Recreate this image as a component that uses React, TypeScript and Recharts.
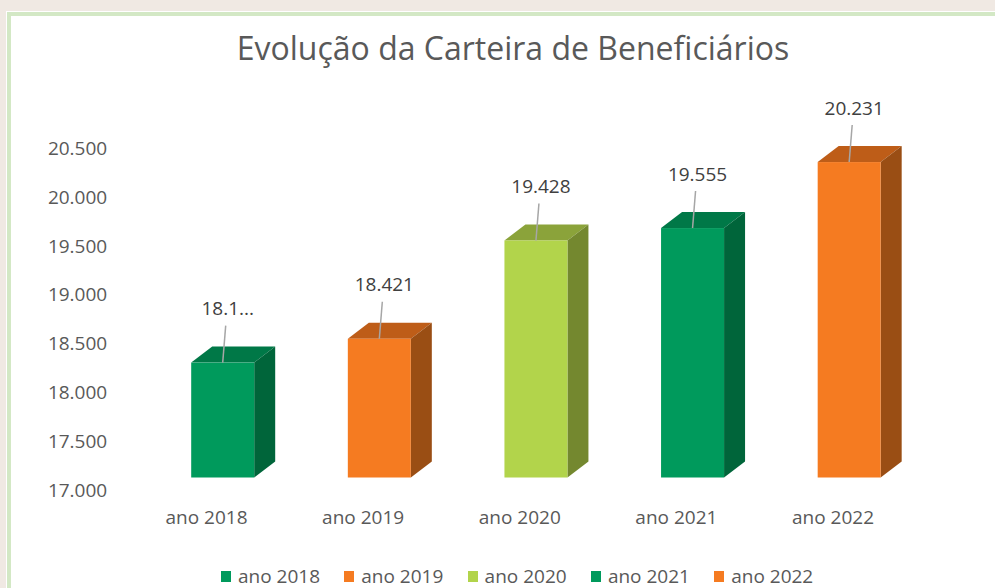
import { BarChart, Bar, XAxis, YAxis, Cell } from 'recharts';

const categories = ['ano 2018', 'ano 2019', 'ano 2020', 'ano 2021', 'ano 2022'];
const beneficiarios = [18177, 18421, 19428, 19555, 20231];
const dataLabels = ['18.1...', '18.421', '19.428', '19.555', '20.231'];
const yTicks = [17000, 17500, 18000, 18500, 19000, 19500, 20000, 20500];

// front / top / side shades per category
const palette = [
  { front: '#009a5c', top: '#007847', side: '#00653a' },
  { front: '#f57b21', top: '#be5d18', side: '#9a4e14' },
  { front: '#b2d44b', top: '#8ba33a', side: '#74882f' },
  { front: '#009a5c', top: '#007847', side: '#00653a' },
  { front: '#f57b21', top: '#be5d18', side: '#9a4e14' },
];

const data = categories.map((name, i) => ({
  name,
  value: beneficiarios[i],
  label: dataLabels[i],
}));

const FONT = '"Open Sans", "Noto Sans", sans-serif';
const DEPTH_X = 21;
const DEPTH_Y = 16;
const LIFT = 12.5; // floor of the 3D box sits above the axis baseline

const fmt = (n: number) => String(n).replace(/\B(?=(\d{3})+(?!\d))/g, '.');

function Bar3D(props: any) {
  const { x, y, width, height, index, payload } = props;
  const c = palette[index % palette.length];
  const top = y - LIFT;
  const bottom = y + height - LIFT;
  const right = x + width;
  const cx = x + width / 2;
  return (
    <g>
      <polygon
        points={`${x},${top} ${x + DEPTH_X},${top - DEPTH_Y} ${right + DEPTH_X},${top - DEPTH_Y} ${right},${top}`}
        fill={c.top}
      />
      <polygon
        points={`${right},${top} ${right + DEPTH_X},${top - DEPTH_Y} ${right + DEPTH_X},${bottom - DEPTH_Y} ${right},${bottom}`}
        fill={c.side}
      />
      <rect x={x} y={top} width={width} height={bottom - top} fill={c.front} />
      <line x1={cx + 3} y1={top - 37} x2={cx} y2={top} stroke="#a6a6a6" strokeWidth={1.5} />
      <text
        x={cx + 5}
        y={top - 54}
        dy="0.35em"
        textAnchor="middle"
        fontSize={19}
        fontFamily={FONT}
        fill="#404040"
      >
        {payload.label}
      </text>
    </g>
  );
}

function CategoryTick({ x, y, payload }: any) {
  return (
    <text x={x - 16} y={y + 34} textAnchor="middle" fontSize={19} fontFamily={FONT} fill="#595959">
      {payload.value}
    </text>
  );
}

export default function App() {
  return (
    <div style={{ position: 'absolute', left: 0, top: 0, width: 995, height: 588, background: '#f0e9e3', overflow: 'hidden' }}>
      <div
        style={{
          position: 'absolute',
          left: 7,
          top: 12,
          width: 1000,
          height: 600,
          background: '#ffffff',
          borderLeft: '4px solid #d3e8c5',
          borderTop: '4px solid #d3e8c5',
          boxShadow: '-1px -1px 0 #ffffff',
        }}
      />
      <div
        style={{
          position: 'absolute',
          left: 0,
          width: 1026,
          top: 26,
          textAlign: 'center',
          fontFamily: FONT,
          fontSize: 32,
          color: '#595959',
          lineHeight: '44px',
        }}
      >
        Evolução da Carteira de Beneficiários
      </div>
      <div style={{ position: 'absolute', left: 0, top: 0 }}>
        <BarChart
          width={995}
          height={588}
          data={data}
          margin={{ top: 148.3, right: 67.7, bottom: 38, left: 0 }}
        >
          <XAxis
            dataKey="name"
            axisLine={false}
            tickLine={false}
            tickSize={0}
            tickMargin={0}
            height={60}
            tick={<CategoryTick />}
            interval={0}
          />
          <YAxis
            domain={[17000, 20500]}
            ticks={yTicks}
            width={144.2}
            axisLine={false}
            tickLine={false}
            tickSize={0}
            tickMargin={37}
            tickFormatter={fmt}
            tick={{ fontSize: 19, fill: '#595959', fontFamily: FONT }}
            interval={0}
          />
          <Bar dataKey="value" barSize={63} shape={<Bar3D />} isAnimationActive={false}>
            {data.map((d, i) => (
              <Cell key={d.name} fill={palette[i].front} />
            ))}
          </Bar>
        </BarChart>
      </div>
      <div
        style={{
          position: 'absolute',
          left: 221,
          top: 565,
          display: 'flex',
          fontFamily: FONT,
          fontSize: 19,
          color: '#595959',
          lineHeight: '22px',
        }}
      >
        {categories.map((name, i) => (
          <div key={name} style={{ width: 123.3, display: 'flex', alignItems: 'center' }}>
            <span style={{ display: 'inline-block', width: 10, height: 11, background: palette[i].front, marginRight: 7 }} />
            <span>{name}</span>
          </div>
        ))}
      </div>
    </div>
  );
}
